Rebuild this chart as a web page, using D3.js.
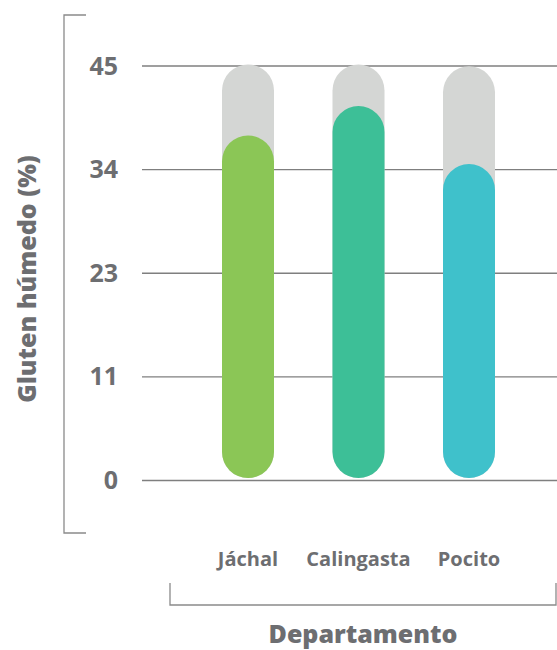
<!DOCTYPE html>
<html>
<head>
<meta charset="utf-8">
<script src="https://cdn.jsdelivr.net/npm/d3@7"></script>
<style>
  html, body { margin: 0; padding: 0; background: #fff; }
  svg { display: block; }
  text { font-family: "Open Sans", "Noto Sans", sans-serif; fill: #6d6e71; }
</style>
</head>
<body>
<svg id="chart" width="557" height="650"></svg>
<script>
const categories = ["Jáchal", "Calingasta", "Pocito"];
const values = [37.4, 40.6, 34.3];
const maxValues = [45, 45, 44.8];
const colors = ["#8bc656", "#3dbf97", "#3fc1cb"];
const tickValues = [0, 11.25, 22.5, 33.75, 45];
const tickLabels = ["0", "11", "23", "34", "45"];
const yTitle = "Gluten húmedo (%)";
const xTitle = "Departamento";

const svg = d3.select("#chart");
const y = d3.scaleLinear().domain([0, 45]).range([480, 65.5]);
const x = d3.scalePoint().domain(categories).range([248, 469]);
const barW = 52;
const inset = 2;

// gridlines via axis
const axis = d3.axisLeft(y).tickValues(tickValues)
  .tickFormat((d, i) => tickLabels[i]).tickSize(415).tickPadding(24);
const gAxis = svg.append("g").attr("transform", "translate(557,0)").call(axis);
gAxis.select(".domain").remove();
gAxis.selectAll(".tick line").attr("stroke", "#7f7f7f").attr("stroke-width", 1.3);
gAxis.selectAll(".tick text").remove();
svg.append("g").selectAll("text").data(tickValues).join("text")
  .attr("x", 118).attr("y", d => y(d) + 9)
  .attr("text-anchor", "end")
  .style("font-size", "25px").style("font-weight", 700)
  .text((d, i) => tickLabels[i]);

// background pills
svg.append("g").selectAll("rect").data(categories).join("rect")
  .attr("x", d => x(d) - barW / 2)
  .attr("width", barW)
  .attr("y", (d, i) => y(maxValues[i]) - 1)
  .attr("height", (d, i) => y(0) - inset - y(maxValues[i]) + 1)
  .attr("rx", barW / 2).attr("ry", barW / 2)
  .attr("fill", "#d4d6d4");

// value pills
svg.append("g").selectAll("rect").data(categories).join("rect")
  .attr("x", d => x(d) - barW / 2)
  .attr("width", barW)
  .attr("y", (d, i) => y(values[i]))
  .attr("height", (d, i) => y(0) - inset - y(values[i]))
  .attr("rx", barW / 2).attr("ry", barW / 2)
  .attr("fill", (d, i) => colors[i]);

// category labels
svg.append("g").selectAll("text").data(categories).join("text")
  .attr("x", d => x(d)).attr("y", 566)
  .attr("text-anchor", "middle")
  .style("font-size", "20px").style("font-weight", 700)
  .text(d => d);

// brackets
svg.append("path").attr("d", "M86,15H64V533H86")
  .attr("fill", "none").attr("stroke", "#8a8a8a").attr("stroke-width", 1.3);
svg.append("path").attr("d", "M170,583V605H556V583")
  .attr("fill", "none").attr("stroke", "#8a8a8a").attr("stroke-width", 1.3);

// titles
svg.append("text")
  .attr("transform", "translate(36,279) rotate(-90)")
  .attr("text-anchor", "middle")
  .style("font-size", "25px").style("font-weight", 800)
  .text(yTitle);
svg.append("text")
  .attr("x", 363).attr("y", 643)
  .attr("text-anchor", "middle")
  .style("font-size", "25px").style("font-weight", 800)
  .text(xTitle);
</script>
</body>
</html>
